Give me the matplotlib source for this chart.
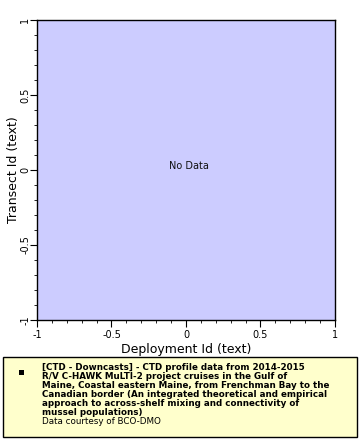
import matplotlib
matplotlib.use("Agg")
import matplotlib.pyplot as plt
from matplotlib.patches import Rectangle
from matplotlib.ticker import MultipleLocator

x_label = "Deployment Id (text)"
y_label = "Transect Id (text)"
major_ticks = [-1, -0.5, 0, 0.5, 1]
tick_labels = ["-1", "-0.5", "0", "0.5", "1"]
no_data_text = "No Data"
legend_title_lines = [
    "[CTD - Downcasts] - CTD profile data from 2014-2015",
    "R/V C-HAWK MuLTI-2 project cruises in the Gulf of",
    "Maine, Coastal eastern Maine, from Frenchman Bay to the",
    "Canadian border (An integrated theoretical and empirical",
    "approach to across-shelf mixing and connectivity of",
    "mussel populations)",
]
credit_line = "Data courtesy of BCO-DMO"

W, H = 360, 440
fig = plt.figure(figsize=(W / 100, H / 100), dpi=100)
ax = fig.add_axes([37 / W, 1 - 320 / H, (335 - 37) / W, (320 - 20) / H])
ax.set_facecolor("#ccccff")
ax.set_xlim(-1, 1)
ax.set_ylim(-1, 1)
ax.set_xticks(major_ticks)
ax.set_xticklabels(tick_labels)
ax.set_yticks(major_ticks)
ax.set_yticklabels(tick_labels, rotation=90, va="center")
ax.xaxis.set_minor_locator(MultipleLocator(0.1))
ax.yaxis.set_minor_locator(MultipleLocator(0.1))
ax.tick_params(which="major", length=5, width=0.8, labelsize=7, pad=2)
ax.tick_params(axis="y", which="major", pad=0)
ax.tick_params(which="minor", length=2.5, width=0.6)
for s in ax.spines.values():
    s.set_linewidth(1.0)
ax.set_xlabel(x_label, fontsize=9, labelpad=2)
ax.set_ylabel(y_label, fontsize=9, labelpad=0)
ax.annotate(no_data_text, (0, 0), xytext=(3, 4), textcoords="offset pixels",
            ha="center", va="center", fontsize=7, color="#111111")

# legend box
fig.patches.append(Rectangle((3 / W, 1 - 437 / H), (357 - 3) / W, (437 - 357) / H,
                             transform=fig.transFigure, facecolor="#ffffcc",
                             edgecolor="black", linewidth=1.0))
fig.patches.append(Rectangle((19 / W, 1 - 375 / H), 5 / W, 5 / H,
                             transform=fig.transFigure, facecolor="black",
                             edgecolor="none"))
y0 = 368
lh = 8.9
for i, line in enumerate(legend_title_lines):
    fig.text(42 / W, 1 - (y0 + i * lh) / H, line, fontsize=6.3, fontweight="bold",
             va="center", ha="left")
fig.text(42 / W, 1 - (y0 + len(legend_title_lines) * lh) / H, credit_line,
         fontsize=6.3, va="center", ha="left")

fig.savefig("out.png", dpi=100)
